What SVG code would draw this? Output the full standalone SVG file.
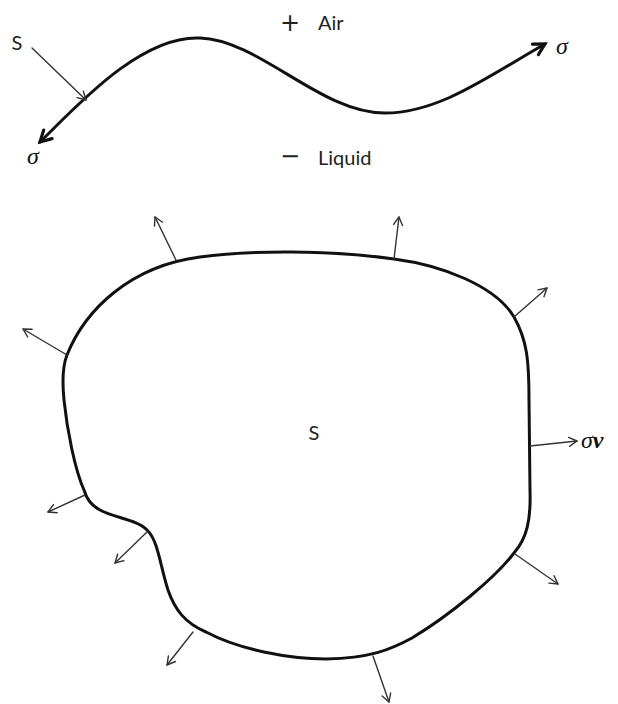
<svg xmlns="http://www.w3.org/2000/svg" width="618" height="704" viewBox="0 0 618 704">
<style>
.lbl{font-family:Lato,"Liberation Sans",sans-serif;font-size:20px;fill:#222}
.sym{font-family:"DejaVu Sans","Liberation Sans",sans-serif;font-size:24px;fill:#222}
.math{font-family:"Liberation Serif","DejaVu Serif",serif;font-style:italic;font-size:24px;fill:#111}
.thick{fill:none;stroke:#111;stroke-width:3;stroke-linecap:round;stroke-linejoin:round}
.thin{fill:none;stroke:#333;stroke-width:1.4;stroke-linecap:round}
</style>
<defs>
<marker id="ah" viewBox="-12 -8 16 16" markerWidth="16" markerHeight="16" refX="0" refY="0" orient="auto" markerUnits="userSpaceOnUse" overflow="visible">
<path d="M-8,-4.5 L0,0 L-8,4.5" fill="none" stroke="#333" stroke-width="1.4" stroke-linecap="round" stroke-linejoin="round"/>
</marker>
<marker id="ahb" viewBox="-16 -10 20 20" markerWidth="20" markerHeight="20" refX="0" refY="0" orient="auto-start-reverse" markerUnits="userSpaceOnUse" overflow="visible">
<path d="M-11,-6 L0,0 L-11,6" fill="none" stroke="#111" stroke-width="3.2" stroke-linecap="round" stroke-linejoin="miter"/>
</marker>
</defs>
<rect width="618" height="704" fill="#fff"/>

<g id="interface">
<path class="thick" d="M40,142 C75,108 140,35 200,38 C260,40 320,113 385,113 C440,113 490,75 545,44" marker-start="url(#ahb)" marker-end="url(#ahb)"/>
</g>
<g id="labels-top">
<text class="lbl" x="17" y="50" text-anchor="middle">S</text>
<text class="math" x="33" y="164" text-anchor="middle">σ</text>
<text class="math" x="562" y="54" text-anchor="middle">σ</text>
<text class="sym" x="290" y="31" text-anchor="middle">+</text>
<text class="lbl" x="318" y="30">Air</text>
<text class="sym" x="290" y="164" text-anchor="middle">−</text>
<text class="lbl" x="318" y="165">Liquid</text>
</g>

<g id="region">
<path class="thick" d="M67,355 C85,310 130,266 200,257 C250,250 330,250 394,259 C440,265 495,285 514,317 C527,340 529,360 529,400 L530,490 C531,520 527,538 514,553 C495,578 450,615 412,638 C390,650 370,658 326,659 C290,659 240,650 206,632 C185,623 175,610 168,590 C160,565 158,540 147,530 C138,520 115,518 100,510 C90,505 86,497 84,490 C75,470 67,430 64,400 C62,380 63,365 67,355 Z"/>
<text class="lbl" x="314" y="440" text-anchor="middle">S</text>
</g>

<g id="connectors">
<line class="thin" x1="32" y1="48" x2="86" y2="100" marker-end="url(#ah)"/>
<line class="thin" x1="67" y1="355" x2="23" y2="329" marker-end="url(#ah)"/>
<line class="thin" x1="176" y1="260" x2="155" y2="217" marker-end="url(#ah)"/>
<line class="thin" x1="394" y1="259" x2="399" y2="217" marker-end="url(#ah)"/>
<line class="thin" x1="514" y1="317" x2="547" y2="288" marker-end="url(#ah)"/>
<line class="thin" x1="530" y1="446" x2="577" y2="441" marker-end="url(#ah)"/>
<line class="thin" x1="515" y1="554" x2="558" y2="584" marker-end="url(#ah)"/>
<line class="thin" x1="373" y1="656" x2="389" y2="702" marker-end="url(#ah)"/>
<line class="thin" x1="193" y1="632" x2="167" y2="665" marker-end="url(#ah)"/>
<line class="thin" x1="147" y1="532" x2="115" y2="563" marker-end="url(#ah)"/>
<line class="thin" x1="85" y1="495" x2="48" y2="512" marker-end="url(#ah)"/>
</g>
<g id="label-sigma-nu">
<text class="math" x="581" y="448">σ<tspan font-weight="bold">ν</tspan></text>
</g>
</svg>
